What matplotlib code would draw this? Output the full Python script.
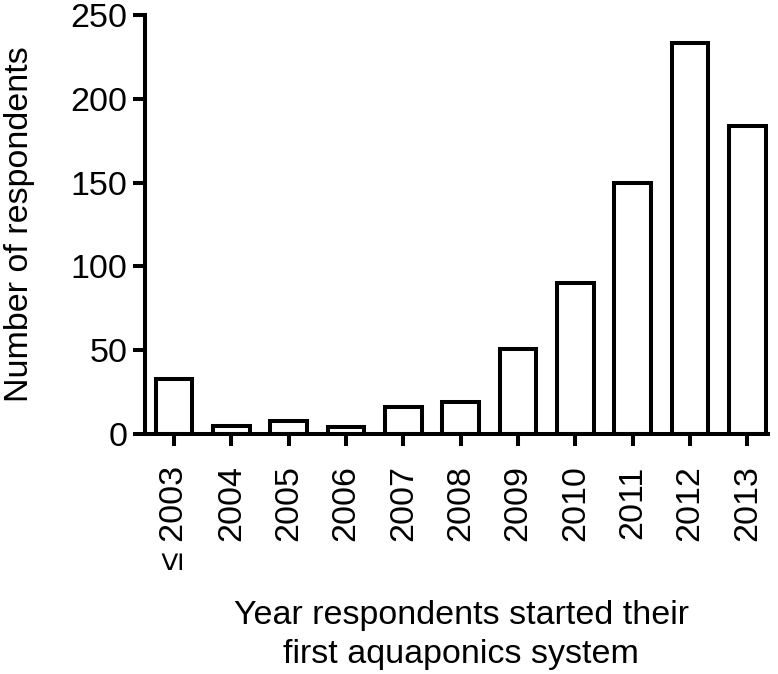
import matplotlib
matplotlib.use("Agg")
import matplotlib.pyplot as plt

plt.rcParams['font.family'] = ['Liberation Sans', 'DejaVu Sans']

years = ["≤ 2003", "2004", "2005", "2006", "2007", "2008", "2009", "2010", "2011", "2012", "2013"]
respondents = [33, 5, 8, 4, 16, 19, 51, 90, 150, 233, 184]
yticks = [0, 50, 100, 150, 200, 250]

W, H = 778, 674
fig = plt.figure(figsize=(W / 100, H / 100), dpi=100)
ax = fig.add_axes([145 / W, 1 - 434 / H, 623 / W, 419 / H])

x = list(range(len(years)))
ax.bar(x, respondents, width=0.64, color='white', edgecolor='black', linewidth=2.9, zorder=2)

ax.set_xlim(-0.506, 10.36)
ax.set_ylim(0, 250)
ax.set_yticks(yticks)
ax.set_xticks(x)
ax.set_xticklabels(years, rotation=90, fontsize=24.5)
ax.tick_params(axis='y', labelsize=24.5, width=2.9, length=8.6, pad=4)
ax.tick_params(axis='x', width=2.9, length=8.6, pad=14)

for s in ['top', 'right']:
    ax.spines[s].set_visible(False)
for s in ['left', 'bottom']:
    ax.spines[s].set_linewidth(2.9)
    ax.spines[s].set_capstyle('projecting')

ax.set_ylabel("Number of respondents", fontsize=24.5)
ax.yaxis.label.set_va('baseline')
ax.yaxis.set_label_coords((28 - 145) / 623, 0.5)

ax.set_xlabel("Year respondents started their\nfirst aquaponics system", fontsize=24.5, linespacing=1.32)
ax.xaxis.label.set_va('baseline')
ax.xaxis.set_label_coords((461 - 145) / 623, (434 - 663) / 419)

fig.savefig("out.png", dpi=100)
